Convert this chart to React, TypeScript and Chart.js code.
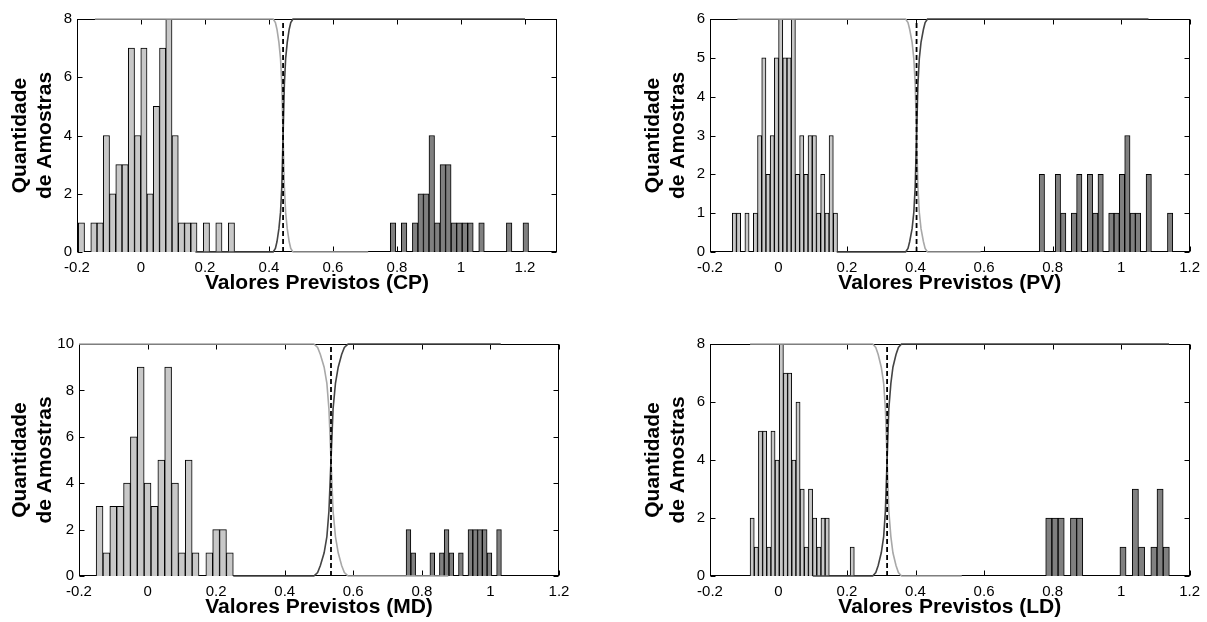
import { useEffect, useRef } from "react";
import { Chart, registerables } from "chart.js";
Chart.register(...registerables);

// ---------- data: histogram counts (bins) ----------
// Panel CP (top-left)
const cpLightCounts = [1, 0, 1, 1, 4, 2, 3, 3, 7, 4, 7, 2, 5, 7, 8, 4, 1, 1, 1, 0, 1, 0, 1, 0, 1];
const cpLightStart = -0.196;
const cpLightBin = 0.01953;
const cpDarkCounts = [1, 0, 1, 0, 1, 2, 2, 4, 1, 3, 3, 1, 1, 1, 1, 0, 1, 0, 0, 0, 0, 1, 0, 0, 1];
const cpDarkStart = 0.779;
const cpDarkBin = 0.01728;
const cpThreshold = 0.444;
const cpCurveX = [0.413, 0.42, 0.425, 0.431, 0.436, 0.44, 0.444, 0.448, 0.452, 0.457, 0.463, 0.468, 0.475];
const cpLightCurveY = [8, 7.88, 7.64, 7.2, 6.64, 5.76, 4, 2.24, 1.36, 0.8, 0.36, 0.12, 0];
const cpDarkCurveY = [0, 0.12, 0.36, 0.8, 1.36, 2.24, 4, 5.76, 6.64, 7.2, 7.64, 7.88, 8];
const cpLightRange = [-0.144, 0.71];
const cpDarkRange = [0.17, 1.2];

// Panel PV (top-right)
const pvLightCounts = [1, 1, 0, 1, 0, 1, 3, 5, 2, 3, 5, 6, 5, 5, 6, 2, 3, 2, 3, 3, 1, 2, 1, 3, 1];
const pvLightStart = -0.135;
const pvLightBin = 0.01229;
const pvDarkCounts = [2, 0, 0, 2, 1, 0, 1, 2, 0, 2, 1, 2, 0, 1, 1, 2, 3, 1, 1, 0, 2, 0, 0, 0, 1];
const pvDarkStart = 0.761;
const pvDarkBin = 0.0156;
const pvThreshold = 0.403;
const pvCurveX = [0.371, 0.378, 0.383, 0.39, 0.395, 0.399, 0.403, 0.407, 0.411, 0.416, 0.423, 0.428, 0.435];
const pvLightCurveY = [6, 5.91, 5.73, 5.4, 4.98, 4.32, 3, 1.68, 1.02, 0.6, 0.27, 0.09, 0];
const pvDarkCurveY = [0, 0.09, 0.27, 0.6, 1.02, 1.68, 3, 4.32, 4.98, 5.4, 5.73, 5.91, 6];
const pvLightRange = [-0.12, 0.59];
const pvDarkRange = [0.17, 1.08];

// Panel MD (bottom-left)
const mdLightCounts = [3, 1, 3, 3, 4, 6, 9, 4, 3, 5, 9, 4, 1, 5, 1, 0, 1, 2, 2, 1];
const mdLightStart = -0.15;
const mdLightBin = 0.02;
const mdDarkCounts = [2, 1, 0, 0, 0, 1, 0, 1, 2, 1, 0, 1, 0, 2, 2, 2, 2, 1, 0, 2];
const mdDarkStart = 0.754;
const mdDarkBin = 0.0139;
const mdThreshold = 0.535;
const mdCurveX = [0.485, 0.496, 0.504, 0.515, 0.523, 0.529, 0.535, 0.541, 0.548, 0.556, 0.566, 0.574, 0.585];
const mdLightCurveY = [10, 9.85, 9.55, 9, 8.3, 7.2, 5, 2.8, 1.7, 1, 0.45, 0.15, 0];
const mdDarkCurveY = [0, 0.15, 0.45, 1, 1.7, 2.8, 5, 7.2, 8.3, 9, 9.55, 9.85, 10];
const mdLightRange = [-0.2, 0.877];
const mdDarkRange = [0.25, 1.03];

// Panel LD (bottom-right)
const ldLightCounts = [2, 1, 5, 5, 1, 5, 4, 8, 7, 7, 4, 6, 3, 1, 3, 2, 1, 2, 2, 0, 0, 0, 0, 0, 1];
const ldLightStart = -0.083;
const ldLightBin = 0.01217;
const ldDarkCounts = [2, 2, 2, 0, 2, 2, 0, 0, 0, 0, 0, 0, 1, 0, 3, 1, 0, 1, 3, 1];
const ldDarkStart = 0.78;
const ldDarkBin = 0.01805;
const ldThreshold = 0.317;
const ldCurveX = [0.275, 0.284, 0.291, 0.3, 0.307, 0.312, 0.317, 0.322, 0.328, 0.334, 0.343, 0.35, 0.359];
const ldLightCurveY = [8, 7.88, 7.64, 7.2, 6.64, 5.76, 4, 2.24, 1.36, 0.8, 0.36, 0.12, 0];
const ldDarkCurveY = [0, 0.12, 0.36, 0.8, 1.36, 2.24, 4, 5.76, 6.64, 7.2, 7.64, 7.88, 8];
const ldLightRange = [-0.083, 0.535];
const ldDarkRange = [0.1, 1.14];

const xTickLabels = ["-0.2", "0", "0.2", "0.4", "0.6", "0.8", "1", "1.2"];
const titles = ["Valores Previstos (CP)", "Valores Previstos (PV)", "Valores Previstos (MD)", "Valores Previstos (LD)"];
const yTitle = ["Quantidade", "de Amostras"];

type PanelData = {
  lightCounts: number[]; lightStart: number; lightBin: number;
  darkCounts: number[]; darkStart: number; darkBin: number;
  threshold: number; curveX: number[]; lightCurveY: number[]; darkCurveY: number[];
  lightRange: number[]; darkRange: number[];
  yMax: number; yStep: number; xMax: number; title: string;
};

const panels: PanelData[] = [
  { lightCounts: cpLightCounts, lightStart: cpLightStart, lightBin: cpLightBin, darkCounts: cpDarkCounts, darkStart: cpDarkStart, darkBin: cpDarkBin, threshold: cpThreshold, curveX: cpCurveX, lightCurveY: cpLightCurveY, darkCurveY: cpDarkCurveY, lightRange: cpLightRange, darkRange: cpDarkRange, yMax: 8, yStep: 2, xMax: 1.3, title: titles[0] },
  { lightCounts: pvLightCounts, lightStart: pvLightStart, lightBin: pvLightBin, darkCounts: pvDarkCounts, darkStart: pvDarkStart, darkBin: pvDarkBin, threshold: pvThreshold, curveX: pvCurveX, lightCurveY: pvLightCurveY, darkCurveY: pvDarkCurveY, lightRange: pvLightRange, darkRange: pvDarkRange, yMax: 6, yStep: 1, xMax: 1.2, title: titles[1] },
  { lightCounts: mdLightCounts, lightStart: mdLightStart, lightBin: mdLightBin, darkCounts: mdDarkCounts, darkStart: mdDarkStart, darkBin: mdDarkBin, threshold: mdThreshold, curveX: mdCurveX, lightCurveY: mdLightCurveY, darkCurveY: mdDarkCurveY, lightRange: mdLightRange, darkRange: mdDarkRange, yMax: 10, yStep: 2, xMax: 1.2, title: titles[2] },
  { lightCounts: ldLightCounts, lightStart: ldLightStart, lightBin: ldLightBin, darkCounts: ldDarkCounts, darkStart: ldDarkStart, darkBin: ldDarkBin, threshold: ldThreshold, curveX: ldCurveX, lightCurveY: ldLightCurveY, darkCurveY: ldDarkCurveY, lightRange: ldLightRange, darkRange: ldDarkRange, yMax: 8, yStep: 2, xMax: 1.2, title: titles[3] },
];

// ---------- layout (positions only) ----------
const layouts = [
  { left: 0, top: 0, w: 603, h: 305, plotL: 77, plotR: 557, plotT: 19, plotB: 252, titlePad: 8 },
  { left: 603, top: 0, w: 604, h: 305, plotL: 107, plotR: 589, plotT: 19, plotB: 252, titlePad: 38 },
  { left: 0, top: 310, w: 603, h: 312, plotL: 79, plotR: 559, plotT: 34, plotB: 266, titlePad: 8 },
  { left: 603, top: 310, w: 604, h: 312, plotL: 107, plotR: 590, plotT: 34, plotB: 266, titlePad: 38 },
];

const FONT = "'Liberation Sans', Arial, sans-serif";
const X_AXIS_H = 44;

const boxPlugin = {
  id: "boxTicks",
  beforeDatasetsDraw(chart: any) {
    const { ctx, chartArea } = chart;
    const l = Math.round(chartArea.left) + 0.5;
    const r = Math.round(chartArea.right) - 0.5;
    const t = Math.round(chartArea.top) + 0.5;
    const b = Math.round(chartArea.bottom) - 0.5;
    ctx.save();
    ctx.strokeStyle = "#000";
    ctx.lineWidth = 1;
    ctx.strokeRect(l, t, r - l, b - t);
    const len = 5;
    ctx.beginPath();
    const xs = chart.scales.x;
    xs.ticks.forEach((_: any, i: number) => {
      const p = Math.round(xs.getPixelForTick(i)) + 0.5;
      ctx.moveTo(p, b); ctx.lineTo(p, b - len);
      ctx.moveTo(p, t); ctx.lineTo(p, t + len);
    });
    const ys = chart.scales.y;
    ys.ticks.forEach((_: any, i: number) => {
      const p = Math.round(ys.getPixelForTick(i)) + 0.5;
      ctx.moveTo(l, p); ctx.lineTo(l + len, p);
      ctx.moveTo(r, p); ctx.lineTo(r - len, p);
    });
    ctx.stroke();
    ctx.restore();
  },
};

function makeConfig(d: PanelData, lay: typeof layouts[0]) {
  const light = d.lightCounts.map((c, i) => ({ x: d.lightStart + d.lightBin * (i + 0.5), y: c }));
  const dark = d.darkCounts.map((c, i) => ({ x: d.darkStart + d.darkBin * (i + 0.5), y: c }));
  const lightCurve = [{ x: d.lightRange[0], y: d.yMax }, ...d.curveX.map((x, i) => ({ x, y: d.lightCurveY[i] })), { x: d.lightRange[1], y: 0 }];
  const darkCurve = [{ x: d.darkRange[0], y: 0 }, ...d.curveX.map((x, i) => ({ x, y: d.darkCurveY[i] })), { x: d.darkRange[1], y: d.yMax }];
  const dashed = [{ x: d.threshold, y: 0 }, { x: d.threshold, y: d.yMax }];
  const tickFont = { family: FONT, size: 15 };
  const titleFont = { family: FONT, size: 21, weight: "bold" as const };
  return {
    type: "bar" as const,
    data: {
      datasets: [
        { type: "bar", data: light, xAxisID: "x", backgroundColor: "#c8c8c8", borderColor: "#000", borderWidth: 1, barPercentage: 1, categoryPercentage: 1, grouped: false, order: 3 },
        { type: "bar", data: dark, xAxisID: "x2", backgroundColor: "#808080", borderColor: "#000", borderWidth: 1, barPercentage: 1, categoryPercentage: 1, grouped: false, order: 3 },
        { type: "line", data: lightCurve, xAxisID: "x", borderColor: "#a8a8a8", borderWidth: 1.6, pointRadius: 0, tension: 0, clip: false, order: 2 },
        { type: "line", data: darkCurve, xAxisID: "x", borderColor: "#444444", borderWidth: 1.6, pointRadius: 0, tension: 0, clip: false, order: 1 },
        { type: "line", data: dashed, xAxisID: "x", borderColor: "#000", borderWidth: 1.8, borderDash: [5, 3], pointRadius: 0, clip: false, order: 0 },
      ],
    },
    options: {
      responsive: false,
      animation: false,
      devicePixelRatio: 1,
      events: [],
      layout: { padding: { left: 0, top: lay.plotT, right: lay.w - lay.plotR, bottom: lay.h - lay.plotB - X_AXIS_H } },
      plugins: { legend: { display: false }, tooltip: { enabled: false } },
      scales: {
        x: {
          type: "linear", position: "bottom", min: -0.2, max: d.xMax, offset: false,
          grid: { display: false, drawTicks: false, offset: false },
          border: { display: false },
          afterFit: (s: any) => { s.height = X_AXIS_H; },
          ticks: {
            stepSize: 0.2, includeBounds: false, padding: 7, color: "#000", font: tickFont, maxRotation: 0, autoSkip: false,
            callback: (v: any) => { const n = Math.round(Number(v) * 10) / 10; const s = String(n); return xTickLabels.includes(s) ? s : ""; },
          },
          title: { display: true, text: d.title, color: "#000", font: titleFont, padding: 0 },
        },
        x2: { type: "linear", display: false, min: -0.2, max: d.xMax, offset: false, grid: { display: false, offset: false } },
        y: {
          type: "linear", position: "left", min: 0, max: d.yMax,
          grid: { display: false, drawTicks: false },
          border: { display: false },
          afterFit: (s: any) => { s.width = lay.plotL; },
          ticks: { stepSize: d.yStep, padding: 5, color: "#000", font: tickFont },
          title: { display: true, text: yTitle, color: "#000", font: { ...titleFont, lineHeight: 25 / 21 }, padding: { top: lay.titlePad, bottom: 0 } },
        },
      },
    },
    plugins: [boxPlugin],
  };
}

export default function App() {
  const refs = [useRef<HTMLCanvasElement>(null), useRef<HTMLCanvasElement>(null), useRef<HTMLCanvasElement>(null), useRef<HTMLCanvasElement>(null)];
  useEffect(() => {
    const charts = panels.map((p, i) => new Chart(refs[i].current as HTMLCanvasElement, makeConfig(p, layouts[i]) as any));
    return () => charts.forEach((c) => c.destroy());
  }, []);
  return (
    <div style={{ position: "absolute", left: 0, top: 0, width: 1207, height: 622, background: "#fff" }}>
      {layouts.map((l, i) => (
        <canvas key={i} ref={refs[i]} width={l.w} height={l.h}
          style={{ position: "absolute", left: l.left, top: l.top, width: l.w, height: l.h }} />
      ))}
    </div>
  );
}
